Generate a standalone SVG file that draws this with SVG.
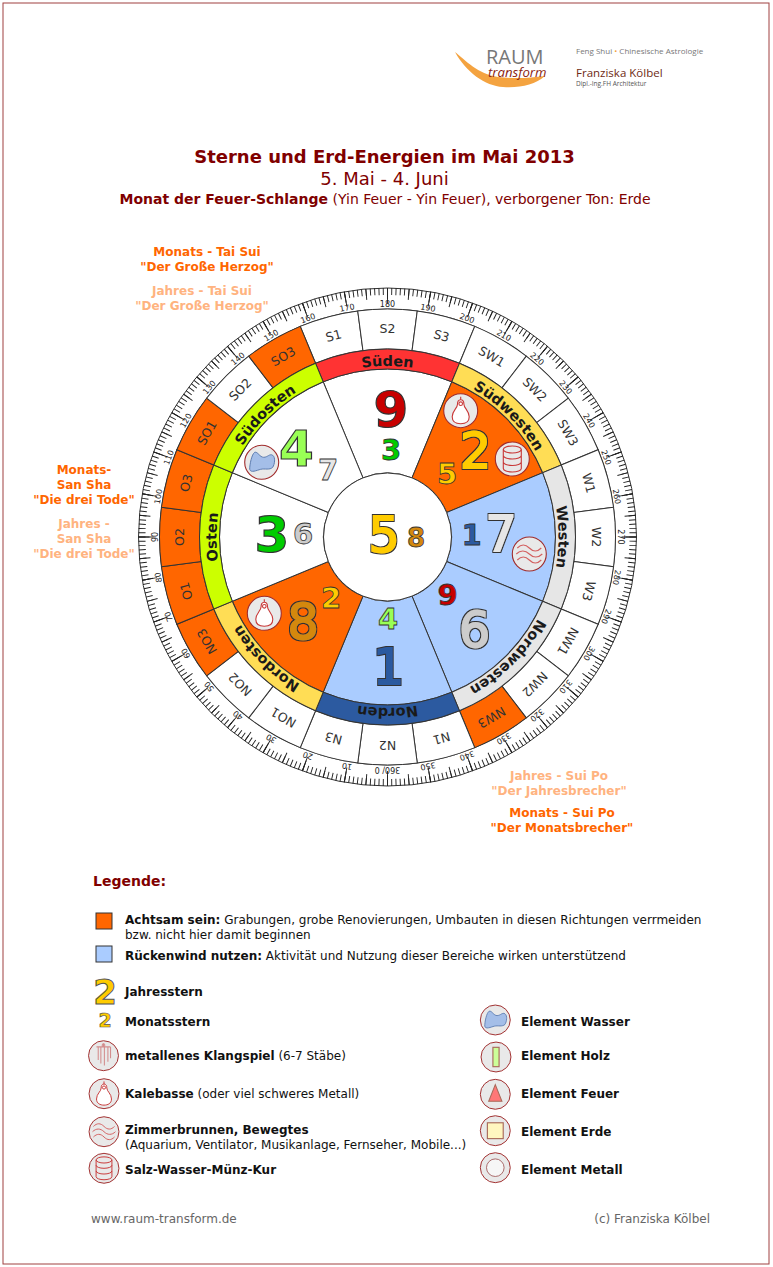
<svg xmlns="http://www.w3.org/2000/svg" width="773" height="1267" viewBox="0 0 773 1267">
<style>
text{font-family:"DejaVu Sans",sans-serif}
.seg{stroke:#333;stroke-width:1}
.sec{stroke:#333;stroke-width:1}
.w{fill:#fff}.o{fill:#f60}.b{fill:#acf}
.sl{font-size:12.5px;fill:#333;text-anchor:middle}
.dg{font-size:8px;fill:#222;text-anchor:middle}
.rl{font-size:14.5px;font-weight:bold;fill:#1a1a1a;text-anchor:middle}
.big{font-size:50px;text-anchor:middle;stroke:#333;stroke-width:1.2}
.bd{font-weight:bold}
.fat{font-size:49px;text-anchor:middle;stroke-width:1.8;filter:url(#ol)}
.sm{font-size:29px;font-weight:bold;text-anchor:middle;stroke:#333;stroke-width:.8}
.lo{font-size:12px;font-weight:bold;fill:#f60;text-anchor:middle}
.lj{font-size:12px;font-weight:bold;fill:#ffb380;text-anchor:middle}
.t{font-size:12px;fill:#111}
.ib{fill:#e9e9e9;stroke:#a02c2c;stroke-width:1.1}
.ir{fill:none;stroke:#c83737;stroke-width:1.1}
</style>
<defs>
<filter id="ol" x="-20%" y="-20%" width="140%" height="140%"><feMorphology in="SourceAlpha" operator="dilate" radius="1" result="d"/><feFlood flood-color="#333"/><feComposite in2="d" operator="in" result="c"/><feMerge><feMergeNode in="c"/><feMergeNode in="SourceGraphic"/></feMerge></filter>
<path id="sector" d="M-24.49,-59.13 L-64.29,-155.21 A168,168 0 0 1 64.29,-155.21 L24.49,-59.13 A64,64 0 0 0 -24.49,-59.13Z"/>
<path id="ring" d="M-64.29,-155.21 L-71.94,-173.69 A188,188 0 0 1 71.94,-173.69 L64.29,-155.21 A168,168 0 0 0 -64.29,-155.21Z"/>
<path id="cell" d="M-24.54,-186.39 L-29.76,-226.05 A228,228 0 0 1 29.76,-226.05 L24.54,-186.39 A188,188 0 0 0 -24.54,-186.39Z"/>
<path id="arc" d="M-65.44,-157.98 A171,171 0 0 1 65.44,-157.98"/>
<g id="ic-kal"><circle class="ib" r="17"/><path d="M0,-11 C-2.500,-11 -3.200,-9 -3.200,-6.500 C-3.200,-2.500 -8.500,0 -8.500,6 C-8.500,11 -4.500,13 0,13 C4.500,13 8.500,11 8.500,6 C8.500,0 3.200,-2.500 3.200,-6.500 C3.200,-9 2.500,-11 0,-11Z M0,-14V-11" fill="#fff" stroke="#c83737" stroke-width="1.1"/><circle cx="0" cy="-7" r="1.800" class="ir"/></g>
<g id="ic-salt"><circle class="ib" r="17"/><g class="ir"><ellipse cy="-9.500" rx="9" ry="3.500"/><path d="M-9,-9.500V9.500A9,3.500 0 0 0 9,9.500V-9.500M-9,-3.500A9,3.500 0 0 0 9,-3.500M-9,3A9,3.500 0 0 0 9,3"/></g></g>
<g id="ic-wave"><circle class="ib" r="17"/><path d="M-12,-6 c4,-4 8,-4 12,0 s8,4 12,0 M-13,0 c4,-4 9,-4 13,0 s9,4 13,0 M-12,6 c4,-4 8,-4 12,0 s8,4 12,0" fill="none" stroke="#d35f5f" stroke-width="1.100"/></g>
<g id="ic-water"><circle class="ib" r="17"/><path d="M-12,7 C-12,2 -10,-8 -7,-10 C-4,-11 -2,-5 2,-5 C6,-5 8,-9 11,-7 C14,-5 13,2 11,5 C8,8 3,6 -1,7 C-5,8 -11,11 -12,7Z" fill="#a4bee8" stroke="#5c7cb0" stroke-width="1"/></g>
<g id="ic-klang"><circle class="ib" r="17"/><g fill="none" stroke="#d38d8d" stroke-width="1.200"><path d="M-8,-10H8M0,-14V-10M-6,-10V5M-3,-10V9M1,-10V11M5,-10V7M8,-10V3" /><circle cy="-12" r="1.500"/></g></g>
<g id="ic-holz"><circle class="ib" r="17"/><rect x="-3.500" y="-11" width="7" height="22" fill="#cf9" stroke="#a86a5a" stroke-width="1.300"/></g>
<g id="ic-feuer"><circle class="ib" r="17"/><path d="M0,-11L7.500,8H-7.500Z" fill="#f77" stroke="#a86a5a" stroke-width="1.200"/></g>
<g id="ic-erde"><circle class="ib" r="17"/><rect x="-9" y="-9" width="18" height="18" fill="#fff6c0" stroke="#a86a5a" stroke-width="1.300"/></g>
<g id="ic-metall"><circle class="ib" r="17"/><circle r="10" fill="#f6f6f6" stroke="#a05a5a" stroke-width="1"/></g>
</defs>
<rect id="frame" x="3" y="3" width="766" height="1261" fill="#fff" stroke="#a04040" stroke-width="1"/>

<g id="logo">
<path d="M455,52 C465,60 478,74 498,77 C515,79 530,78 545,76 C535,85 520,88 503,87 C485,86 466,72 455,52Z" fill="#f4a340"/>
<text x="486" y="64" style="font-family:'Open Sans',sans-serif;font-size:20px;fill:#777">RAUM</text>
<text x="488" y="77" style="font-family:'Open Sans',sans-serif;font-size:13.200px;font-style:italic;fill:#8a1c10">transform</text>
<text x="576" y="54" style="font-family:'Open Sans',sans-serif;font-size:8px;fill:#777">Feng Shui <tspan fill="#f4a340">•</tspan> Chinesische Astrologie</text>
<text x="576" y="77" style="font-family:'Open Sans',sans-serif;font-size:11.500px;fill:#6e2a14">Franziska Kölbel</text>
<text x="576" y="86" style="font-family:'Open Sans',sans-serif;font-size:6.500px;fill:#555">Dipl.-Ing.FH Architektur</text>
</g>

<g id="title" text-anchor="middle" fill="#800000">
<text x="384.500" y="163" style="font-size:18px;font-weight:bold">Sterne und Erd-Energien im Mai 2013</text>
<text x="384.500" y="185" style="font-size:18px">5. Mai - 4. Juni</text>
<text x="385" y="204" style="font-size:14px"><tspan font-weight="bold">Monat der Feuer-Schlange</tspan> (Yin Feuer - Yin Feuer), verborgener Ton: Erde</text>
</g>

<g id="notes">
<text class="lo" x="207" y="256">Monats - Tai Sui</text><text class="lo" x="207" y="271">"Der Große Herzog"</text>
<text class="lj" x="202" y="295">Jahres - Tai Sui</text><text class="lj" x="202" y="310">"Der Große Herzog"</text>
<text class="lo" x="84" y="474">Monats-</text><text class="lo" x="84" y="489">San Sha</text><text class="lo" x="84" y="504">"Die drei Tode"</text>
<text class="lj" x="84" y="528">Jahres -</text><text class="lj" x="84" y="543">San Sha</text><text class="lj" x="84" y="558">"Die drei Tode"</text>
<text class="lj" x="559" y="780">Jahres - Sui Po</text><text class="lj" x="559" y="795">"Der Jahresbrecher"</text>
<text class="lo" x="562" y="817">Monats - Sui Po</text><text class="lo" x="562" y="832">"Der Monatsbrecher"</text>
</g>

<g id="compass" transform="translate(387.5,537)">
<g id="scale">
<circle r="249" fill="#fff" stroke="#333" stroke-width="1"/>
<g fill="none" stroke="#222">
<circle r="245.500" stroke-width="7" pathLength="360" stroke-dasharray="0.22 0.78" stroke-dashoffset="0.11"/>
<circle r="243.500" stroke-width="11" pathLength="360" stroke-dasharray="0.22 4.78" stroke-dashoffset="0.11"/>
<circle r="241.500" stroke-width="15" pathLength="360" stroke-dasharray="0.22 9.78" stroke-dashoffset="0.11"/>
</g>
<circle r="228" fill="none" stroke="#333" stroke-width="1"/>
<text class="dg" transform="rotate(-170)" y="-230">10</text><text class="dg" transform="rotate(-160)" y="-230">20</text><text class="dg" transform="rotate(-150)" y="-230">30</text><text class="dg" transform="rotate(-140)" y="-230">40</text><text class="dg" transform="rotate(-130)" y="-230">50</text><text class="dg" transform="rotate(-120)" y="-230">60</text><text class="dg" transform="rotate(-110)" y="-230">70</text><text class="dg" transform="rotate(-100)" y="-230">80</text><text class="dg" transform="rotate(-90)" y="-230">90</text><text class="dg" transform="rotate(-80)" y="-230">100</text><text class="dg" transform="rotate(-70)" y="-230">110</text><text class="dg" transform="rotate(-60)" y="-230">120</text><text class="dg" transform="rotate(-50)" y="-230">130</text><text class="dg" transform="rotate(-40)" y="-230">140</text><text class="dg" transform="rotate(-30)" y="-230">150</text><text class="dg" transform="rotate(-20)" y="-230">160</text><text class="dg" transform="rotate(-10)" y="-230">170</text><text class="dg" y="-230">180</text><text class="dg" transform="rotate(10)" y="-230">190</text><text class="dg" transform="rotate(20)" y="-230">200</text><text class="dg" transform="rotate(30)" y="-230">210</text><text class="dg" transform="rotate(40)" y="-230">220</text><text class="dg" transform="rotate(50)" y="-230">230</text><text class="dg" transform="rotate(60)" y="-230">240</text><text class="dg" transform="rotate(70)" y="-230">250</text><text class="dg" transform="rotate(80)" y="-230">260</text><text class="dg" transform="rotate(90)" y="-230">270</text><text class="dg" transform="rotate(100)" y="-230">280</text><text class="dg" transform="rotate(110)" y="-230">290</text><text class="dg" transform="rotate(120)" y="-230">300</text><text class="dg" transform="rotate(130)" y="-230">310</text><text class="dg" transform="rotate(140)" y="-230">320</text><text class="dg" transform="rotate(150)" y="-230">330</text><text class="dg" transform="rotate(160)" y="-230">340</text><text class="dg" transform="rotate(170)" y="-230">350</text><text class="dg" transform="rotate(180)" y="-230">360/ 0</text>
</g>
<g id="cell-S1" transform="rotate(-15)"><use href="#cell" class="seg w"/><text class="sl" y="-204">S1</text></g>
<g id="cell-S2" transform="rotate(0)"><use href="#cell" class="seg w"/><text class="sl" y="-204">S2</text></g>
<g id="cell-S3" transform="rotate(15)"><use href="#cell" class="seg w"/><text class="sl" y="-204">S3</text></g>
<g id="cell-SW1" transform="rotate(30)"><use href="#cell" class="seg w"/><text class="sl" y="-204">SW1</text></g>
<g id="cell-SW2" transform="rotate(45)"><use href="#cell" class="seg w"/><text class="sl" y="-204">SW2</text></g>
<g id="cell-SW3" transform="rotate(60)"><use href="#cell" class="seg w"/><text class="sl" y="-204">SW3</text></g>
<g id="cell-W1" transform="rotate(75)"><use href="#cell" class="seg w"/><text class="sl" y="-204">W1</text></g>
<g id="cell-W2" transform="rotate(90)"><use href="#cell" class="seg w"/><text class="sl" y="-204">W2</text></g>
<g id="cell-W3" transform="rotate(105)"><use href="#cell" class="seg w"/><text class="sl" y="-204">W3</text></g>
<g id="cell-NW1" transform="rotate(120)"><use href="#cell" class="seg w"/><text class="sl" y="-204">NW1</text></g>
<g id="cell-NW2" transform="rotate(135)"><use href="#cell" class="seg w"/><text class="sl" y="-204">NW2</text></g>
<g id="cell-NW3" transform="rotate(150)"><use href="#cell" class="seg o"/><text class="sl" y="-204">NW3</text></g>
<g id="cell-N1" transform="rotate(165)"><use href="#cell" class="seg w"/><text class="sl" y="-204">N1</text></g>
<g id="cell-N2" transform="rotate(180)"><use href="#cell" class="seg w"/><text class="sl" y="-204">N2</text></g>
<g id="cell-N3" transform="rotate(195)"><use href="#cell" class="seg w"/><text class="sl" y="-204">N3</text></g>
<g id="cell-NO1" transform="rotate(210)"><use href="#cell" class="seg w"/><text class="sl" y="-204">NO1</text></g>
<g id="cell-NO2" transform="rotate(225)"><use href="#cell" class="seg w"/><text class="sl" y="-204">NO2</text></g>
<g id="cell-NO3" transform="rotate(240)"><use href="#cell" class="seg o"/><text class="sl" y="-204">NO3</text></g>
<g id="cell-O1" transform="rotate(255)"><use href="#cell" class="seg o"/><text class="sl" y="-204">O1</text></g>
<g id="cell-O2" transform="rotate(270)"><use href="#cell" class="seg o"/><text class="sl" y="-204">O2</text></g>
<g id="cell-O3" transform="rotate(285)"><use href="#cell" class="seg o"/><text class="sl" y="-204">O3</text></g>
<g id="cell-SO1" transform="rotate(300)"><use href="#cell" class="seg o"/><text class="sl" y="-204">SO1</text></g>
<g id="cell-SO2" transform="rotate(315)"><use href="#cell" class="seg w"/><text class="sl" y="-204">SO2</text></g>
<g id="cell-SO3" transform="rotate(330)"><use href="#cell" class="seg o"/><text class="sl" y="-204">SO3</text></g>

<g id="sec-S"><use href="#sector" class="sec w"/><use href="#ring" class="seg" fill="#f33"/><text class="rl"><textPath href="#arc" startOffset="50%">Süden</textPath></text></g>
<g id="sec-SW" transform="rotate(45)"><use href="#sector" class="sec o"/><use href="#ring" class="seg" fill="#fd5"/><text class="rl"><textPath href="#arc" startOffset="50%">Südwesten</textPath></text></g>
<g id="sec-W" transform="rotate(90)"><use href="#sector" class="sec b"/><use href="#ring" class="seg" fill="#e6e6e6"/><text class="rl"><textPath href="#arc" startOffset="50%">Westen</textPath></text></g>
<g id="sec-NW" transform="rotate(135)"><use href="#sector" class="sec b"/><use href="#ring" class="seg" fill="#e6e6e6"/><text class="rl"><textPath href="#arc" startOffset="50%">Nordwesten</textPath></text></g>
<g id="sec-N" transform="rotate(180)"><use href="#sector" class="sec b"/><use href="#ring" class="seg" fill="#2c5aa0"/><text class="rl"><textPath href="#arc" startOffset="50%">Norden</textPath></text></g>
<g id="sec-NO" transform="rotate(225)"><use href="#sector" class="sec o"/><use href="#ring" class="seg" fill="#fd5"/><text class="rl"><textPath href="#arc" startOffset="50%">Nordosten</textPath></text></g>
<g id="sec-O" transform="rotate(270)"><use href="#sector" class="sec w"/><use href="#ring" class="seg" fill="#cf0"/><text class="rl"><textPath href="#arc" startOffset="50%">Osten</textPath></text></g>
<g id="sec-SO" transform="rotate(315)"><use href="#sector" class="sec w"/><use href="#ring" class="seg" fill="#cf0"/><text class="rl"><textPath href="#arc" startOffset="50%">Südosten</textPath></text></g>
<circle id="hub" r="64" fill="#fff" stroke="#333" stroke-width="1"/>
</g>

<g id="stars">
<text class="big bd" x="391" y="426.500" fill="#c80000">9</text><text class="sm" x="391" y="460" fill="#0c0">3</text>
<text class="big bd" x="296.500" y="466" fill="#9f5">4</text><text class="sm" x="328" y="480" fill="#e6e6e6">7</text>
<text class="big bd" x="272" y="551.500" fill="#0c0">3</text><text class="sm" x="303" y="544" fill="#ccc">6</text>
<text class="fat" x="384" y="552" fill="#fc0" stroke="#fc0">5</text><text class="sm" x="416" y="547" fill="#d4880f" style="font-size:26px">8</text>
<text class="fat" x="475.500" y="468" fill="#fc0" stroke="#fc0">2</text><text class="sm" x="447" y="484" fill="#fc0">5</text>
<text class="fat" x="501" y="551" fill="#e6e6e6" stroke="#e6e6e6">7</text><text class="sm" x="471.500" y="545" fill="#2c5aa0">1</text>
<text class="fat" x="303" y="639" fill="#d4880f" stroke="#d4880f">8</text><text class="sm" x="331" y="608" fill="#fc0">2</text>
<text class="fat" x="388.500" y="684" fill="#2c5aa0" stroke="#2c5aa0">1</text><text class="sm" x="388" y="629" fill="#9f5">4</text>
<text class="fat" x="474.500" y="647" fill="#ccc" stroke="#ccc">6</text><text class="sm" x="447.500" y="605" fill="#c80000">9</text>
</g>

<g id="sector-icons">
<use href="#ic-water" transform="translate(261.700,462.300)"/>
<use href="#ic-kal" transform="translate(460.700,410.700)"/>
<use href="#ic-salt" transform="translate(512.300,459)"/>
<use href="#ic-wave" transform="translate(529.300,554)"/>
<use href="#ic-kal" transform="translate(264.300,613.300)"/>
</g>

<g id="legend">
<text x="93" y="886" style="font-size:14px;font-weight:bold;fill:#800000">Legende:</text>
<g id="leg-achtsam"><rect x="96" y="913" width="16" height="16" class="o" stroke="#333" stroke-width="1"/><text class="t" x="125" y="924"><tspan font-weight="bold">Achtsam sein:</tspan> Grabungen, grobe Renovierungen, Umbauten in diesen Richtungen verrmeiden</text><text class="t" x="125" y="939">bzw. nicht hier damit beginnen</text></g>
<g id="leg-ruecken"><rect x="96" y="946" width="16" height="16" class="b" stroke="#333" stroke-width="1"/><text class="t" x="125" y="960"><tspan font-weight="bold">Rückenwind nutzen:</tspan> Aktivität und Nutzung dieser Bereiche wirken unterstützend</text></g>
<g id="leg-jahr"><text x="105" y="1004" text-anchor="middle" fill="#fc0" stroke="#555" stroke-width="1" style="font-size:34px;font-weight:bold">2</text><text class="t bd" x="125" y="996">Jahresstern</text></g>
<g id="leg-monat"><text x="105" y="1027" text-anchor="middle" fill="#fc0" stroke="#555" stroke-width=".7" style="font-size:19px;font-weight:bold">2</text><text class="t bd" x="125" y="1026">Monatsstern</text></g>
<g id="leg-klang"><use href="#ic-klang" transform="translate(103.500,1055.700) scale(.88)"/><text class="t" x="125" y="1060"><tspan font-weight="bold">metallenes Klangspiel</tspan> (6-7 Stäbe)</text></g>
<g id="leg-kal"><use href="#ic-kal" transform="translate(104,1093.700) scale(.88)"/><text class="t" x="125" y="1098"><tspan font-weight="bold">Kalebasse</tspan> (oder viel schweres Metall)</text></g>
<g id="leg-wave"><use href="#ic-wave" transform="translate(104,1131.700) scale(.88)"/><text class="t bd" x="125" y="1134">Zimmerbrunnen, Bewegtes</text><text class="t" x="125" y="1149">(Aquarium, Ventilator, Musikanlage, Fernseher, Mobile...)</text></g>
<g id="leg-salt"><use href="#ic-salt" transform="translate(104,1168.300) scale(.88)"/><text class="t bd" x="125" y="1174">Salz-Wasser-Münz-Kur</text></g>
<g id="leg-wasser"><use href="#ic-water" transform="translate(495.300,1020) scale(.88)"/><text class="t bd" x="521" y="1026">Element Wasser</text></g>
<g id="leg-holz"><use href="#ic-holz" transform="translate(496,1057) scale(.88)"/><text class="t bd" x="521" y="1060">Element Holz</text></g>
<g id="leg-feuer"><use href="#ic-feuer" transform="translate(495.300,1094.300) scale(.88)"/><text class="t bd" x="521" y="1098">Element Feuer</text></g>
<g id="leg-erde"><use href="#ic-erde" transform="translate(495.300,1130.700) scale(.88)"/><text class="t bd" x="521" y="1136">Element Erde</text></g>
<g id="leg-metall"><use href="#ic-metall" transform="translate(495.300,1167.700) scale(.88)"/><text class="t bd" x="521" y="1174">Element Metall</text></g>
</g>

<g id="footer" style="fill:#666">
<text x="91" y="1223" style="font-size:12px">www.raum-transform.de</text>
<text x="710" y="1223" text-anchor="end" style="font-size:12px">(c) Franziska Kölbel</text>
</g>
</svg>
